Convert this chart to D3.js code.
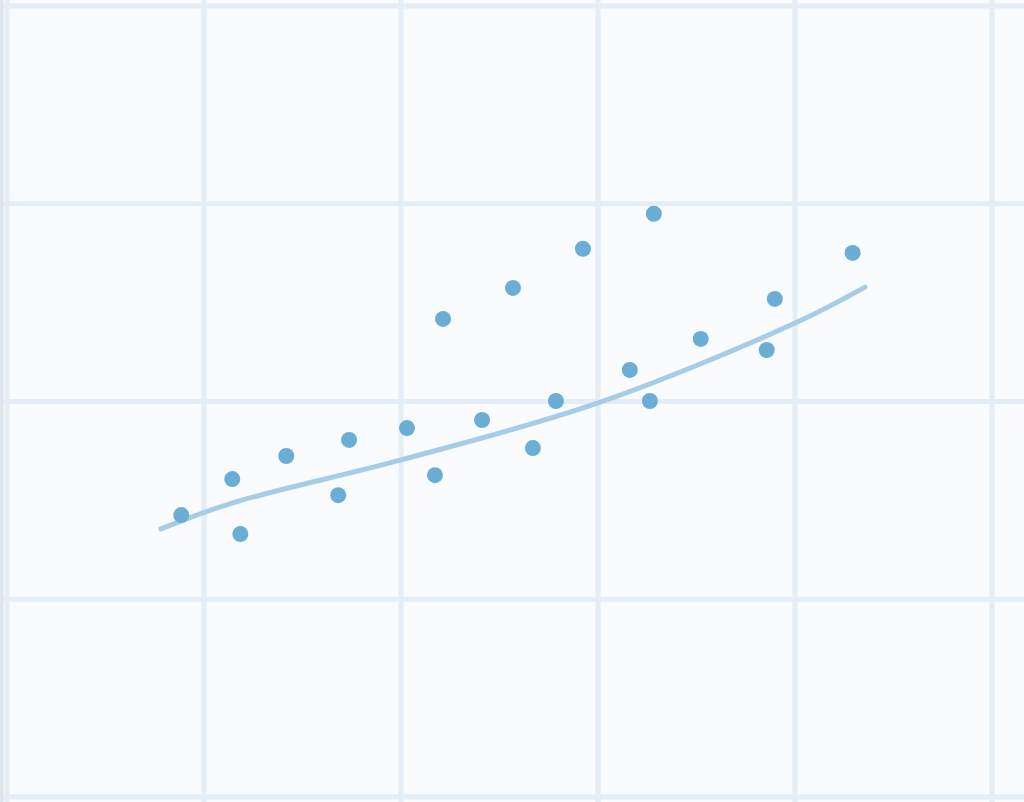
<!DOCTYPE html>
<html>
<head>
<meta charset="utf-8">
<script src="https://cdn.jsdelivr.net/npm/d3@7"></script>
<style>
html,body{margin:0;padding:0;background:#f9fbfd;overflow:hidden;}
svg{display:block;}
</style>
</head>
<body>
<svg id="chart" width="1024" height="802"></svg>
<script>
// Data (values in plot units; grid ticks at integers)
const xTicks = [0, 1, 2, 3, 4, 5];
const yTicks = [0, 1, 2, 3, 4];
const pointX = [0.887, 1.146, 1.187, 1.420, 1.684, 1.739, 2.033, 2.175, 2.216, 2.414, 2.571, 2.672, 2.789, 2.926, 3.164, 3.266, 3.286, 3.524, 3.859, 3.900, 4.295];
const pointY = [1.423, 1.605, 1.327, 1.722, 1.524, 1.803, 1.863, 1.625, 2.415, 1.904, 2.572, 1.762, 2.000, 2.770, 2.157, 2.000, 2.947, 2.314, 2.258, 2.516, 2.749];
const trendX = [0.784, 1.145, 2.003, 3.003, 4.003, 4.358];
const trendY = [1.353, 1.484, 1.702, 1.990, 2.394, 2.576];

const svg = d3.select("#chart");
const x = d3.scaleLinear().domain([0, 5]).range([6.5, 991.5]);
const y = d3.scaleLinear().domain([0, 4]).range([796.5, 5.5]);

svg.append("rect").attr("width", 1024).attr("height", 802).attr("fill", "#f9fbfd");

// grid via axes
const gx = svg.append("g")
  .call(d3.axisBottom(x).tickValues(xTicks).tickSize(802).tickFormat(""));
const gy = svg.append("g")
  .call(d3.axisRight(y).tickValues(yTicks).tickSize(1024).tickFormat(""));
[gx, gy].forEach(g => {
  g.select(".domain").remove();
  g.selectAll(".tick line").attr("stroke", "#e5eef6").attr("stroke-width", 5);
});

// left edge strip
svg.append("rect").attr("x", 0).attr("y", 0).attr("width", 3.5).attr("height", 802).attr("fill", "#dfe5ea");

// trend line
const trend = trendX.map((v, i) => [v, trendY[i]]);
svg.append("path")
  .datum(trend)
  .attr("fill", "none")
  .attr("stroke", "#a6cde8")
  .attr("stroke-width", 5)
  .attr("stroke-linecap", "round")
  .attr("d", d3.line().x(d => x(d[0])).y(d => y(d[1])).curve(d3.curveCatmullRom.alpha(0.5)));

// points
const pts = pointX.map((v, i) => [v, pointY[i]]);
svg.append("g").selectAll("circle").data(pts).join("circle")
  .attr("cx", d => x(d[0]))
  .attr("cy", d => y(d[1]))
  .attr("r", 8)
  .attr("fill", "#6aaed6");
</script>
</body>
</html>
